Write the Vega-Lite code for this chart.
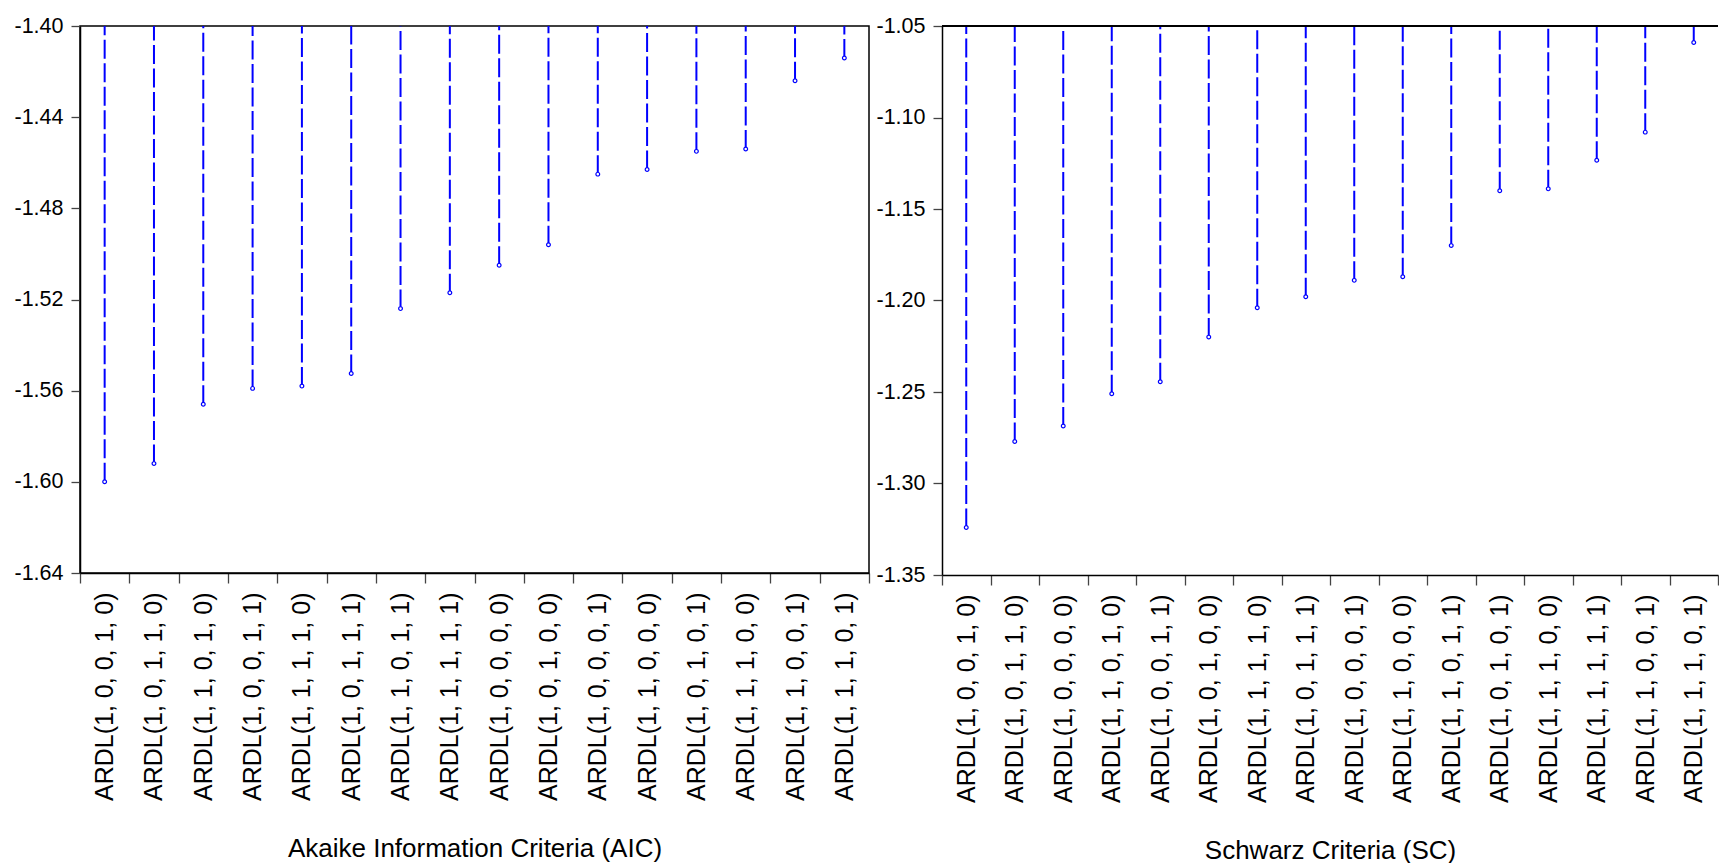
{
  "$schema": "https://vega.github.io/schema/vega-lite/v6.json",
  "padding": {"left": 13, "top": 14, "right": 0, "bottom": 0},
  "config": {
    "font": "Liberation Sans",
    "view": {"stroke": "#000000", "strokeWidth": 1.5},
    "axis": {"grid": false, "domainColor": "#000000", "domainWidth": 1.5, "tickColor": "#444444", "tickWidth": 1.3, "labelColor": "#000000", "titleColor": "#000000", "labelFont": "Liberation Sans", "titleFont": "Liberation Sans", "titleFontWeight": "normal"},
    "concat": {"spacing": 4}
  },
  "datasets": {
    "aic": [
      {"model": "ARDL(1, 0, 0, 1, 0)", "value": -1.600},
      {"model": "ARDL(1, 0, 1, 1, 0)", "value": -1.592},
      {"model": "ARDL(1, 1, 0, 1, 0)", "value": -1.566},
      {"model": "ARDL(1, 0, 0, 1, 1)", "value": -1.559},
      {"model": "ARDL(1, 1, 1, 1, 0)", "value": -1.558},
      {"model": "ARDL(1, 0, 1, 1, 1)", "value": -1.5525},
      {"model": "ARDL(1, 1, 0, 1, 1)", "value": -1.524},
      {"model": "ARDL(1, 1, 1, 1, 1)", "value": -1.517},
      {"model": "ARDL(1, 0, 0, 0, 0)", "value": -1.505},
      {"model": "ARDL(1, 0, 1, 0, 0)", "value": -1.496},
      {"model": "ARDL(1, 0, 0, 0, 1)", "value": -1.465},
      {"model": "ARDL(1, 1, 0, 0, 0)", "value": -1.463},
      {"model": "ARDL(1, 0, 1, 0, 1)", "value": -1.455},
      {"model": "ARDL(1, 1, 1, 0, 0)", "value": -1.454},
      {"model": "ARDL(1, 1, 0, 0, 1)", "value": -1.424},
      {"model": "ARDL(1, 1, 1, 0, 1)", "value": -1.414}
    ],
    "sc": [
      {"model": "ARDL(1, 0, 0, 1, 0)", "value": -1.324},
      {"model": "ARDL(1, 0, 1, 1, 0)", "value": -1.277},
      {"model": "ARDL(1, 0, 0, 0, 0)", "value": -1.2686},
      {"model": "ARDL(1, 1, 0, 1, 0)", "value": -1.251},
      {"model": "ARDL(1, 0, 0, 1, 1)", "value": -1.2444},
      {"model": "ARDL(1, 0, 1, 0, 0)", "value": -1.220},
      {"model": "ARDL(1, 1, 1, 1, 0)", "value": -1.204},
      {"model": "ARDL(1, 0, 1, 1, 1)", "value": -1.198},
      {"model": "ARDL(1, 0, 0, 0, 1)", "value": -1.189},
      {"model": "ARDL(1, 1, 0, 0, 0)", "value": -1.187},
      {"model": "ARDL(1, 1, 0, 1, 1)", "value": -1.170},
      {"model": "ARDL(1, 0, 1, 0, 1)", "value": -1.140},
      {"model": "ARDL(1, 1, 1, 0, 0)", "value": -1.139},
      {"model": "ARDL(1, 1, 1, 1, 1)", "value": -1.1234},
      {"model": "ARDL(1, 1, 0, 0, 1)", "value": -1.108},
      {"model": "ARDL(1, 1, 1, 0, 1)", "value": -1.059}
    ]
  },
  "hconcat": [
    {
      "width": 789,
      "height": 547,
      "data": {"name": "aic"},
      "encoding": {
        "x": {
          "field": "model", "type": "nominal", "sort": null,
          "scale": {"paddingInner": 0, "paddingOuter": 0},
          "axis": {"labelAngle": -90, "labelFontSize": 25, "labelLimit": 0, "tickSize": 10, "labelPadding": 9, "tickBand": "extent", "title": "Akaike Information Criteria (AIC)", "titleFontSize": 26, "titlePadding": 62}
        }
      },
      "layer": [
        {
          "mark": {"type": "rule", "color": "#0000ff", "strokeWidth": 2, "strokeDash": [19, 4.5]},
          "encoding": {
            "y": {
              "field": "value", "type": "quantitative",
              "scale": {"domain": [-1.64, -1.40], "nice": false, "zero": false},
              "axis": {"values": [-1.64, -1.60, -1.56, -1.52, -1.48, -1.44, -1.40], "labelExpr": "'-' + format(abs(datum.value), '.2f')", "labelFontSize": 21.5, "tickSize": 9, "labelPadding": 8, "title": null}
            },
            "y2": {"datum": -1.40}
          }
        },
        {
          "mark": {"type": "point", "shape": "circle", "filled": false, "stroke": "#0000ff", "fill": "white", "strokeWidth": 1.2, "size": 14, "opacity": 1},
          "encoding": {"y": {"field": "value", "type": "quantitative"}}
        }
      ]
    },
    {
      "width": 776,
      "height": 549,
      "view": {"stroke": null},
      "data": {"name": "sc"},
      "layer": [
        {
          "mark": {"type": "rule", "color": "#0000ff", "strokeWidth": 2, "strokeDash": [19, 4.5]},
          "encoding": {
            "x": {
              "field": "model", "type": "nominal", "sort": null,
              "scale": {"paddingInner": 0, "paddingOuter": 0},
              "axis": {"labelAngle": -90, "labelFontSize": 25, "labelLimit": 0, "tickSize": 10, "labelPadding": 9, "tickBand": "extent", "title": "Schwarz Criteria (SC)", "titleFontSize": 26, "titlePadding": 62}
            },
            "y": {
              "field": "value", "type": "quantitative",
              "scale": {"domain": [-1.35, -1.05], "nice": false, "zero": false},
              "axis": {"values": [-1.35, -1.30, -1.25, -1.20, -1.15, -1.10, -1.05], "labelExpr": "'-' + format(abs(datum.value), '.2f')", "labelFontSize": 21.5, "tickSize": 9, "labelPadding": 8, "title": null}
            },
            "y2": {"datum": -1.05}
          }
        },
        {
          "mark": {"type": "rule", "color": "#000000", "strokeWidth": 1.5},
          "encoding": {"y": {"datum": -1.05}}
        },
        {
          "mark": {"type": "point", "shape": "circle", "filled": false, "stroke": "#0000ff", "fill": "white", "strokeWidth": 1.2, "size": 14, "opacity": 1},
          "encoding": {
            "x": {"field": "model", "type": "nominal", "sort": null},
            "y": {"field": "value", "type": "quantitative"}
          }
        }
      ]
    }
  ]
}
